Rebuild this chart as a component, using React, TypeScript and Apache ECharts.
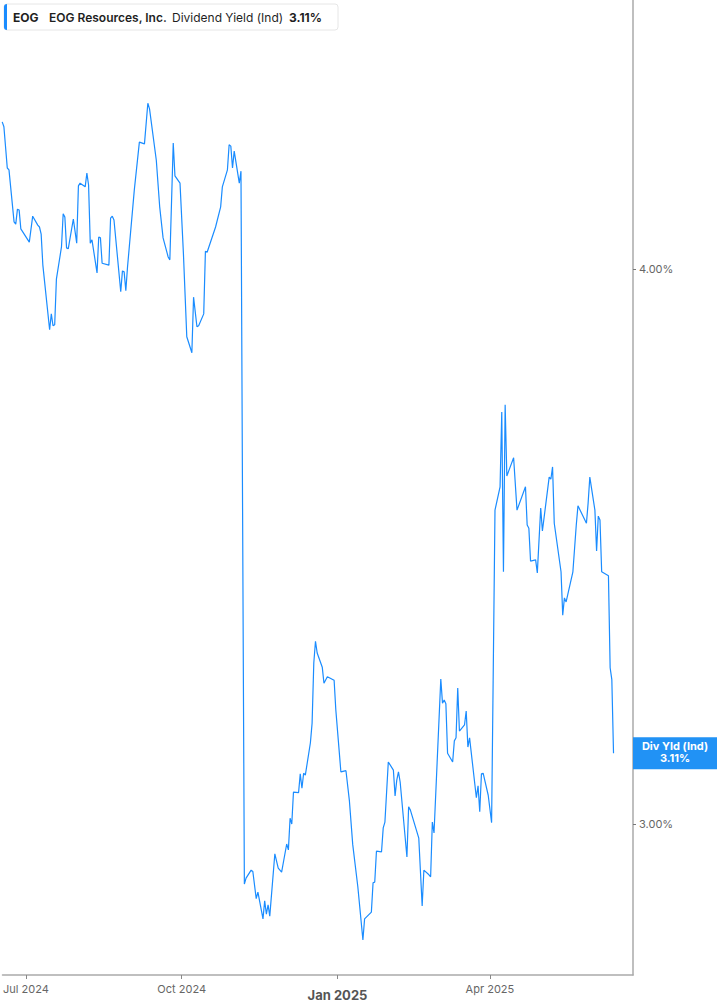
import React, { useEffect, useRef } from "react";
import * as echarts from "echarts";

// Dividend yield (indicated), % — EOG Resources, Inc.
const dates: string[] = [
  "2024-06-17","2024-06-18","2024-06-20","2024-06-21","2024-06-24","2024-06-25","2024-06-26","2024-06-27","2024-06-28",
  "2024-07-03","2024-07-05","2024-07-08","2024-07-09","2024-07-10","2024-07-11","2024-07-15","2024-07-16","2024-07-17",
  "2024-07-18","2024-07-19","2024-07-22","2024-07-23","2024-07-24","2024-07-25","2024-07-26","2024-07-29","2024-07-31",
  "2024-08-01","2024-08-02","2024-08-05","2024-08-06","2024-08-07","2024-08-08","2024-08-09","2024-08-12","2024-08-13",
  "2024-08-14","2024-08-15","2024-08-19","2024-08-20","2024-08-21","2024-08-22","2024-08-26","2024-08-27","2024-08-28",
  "2024-08-29","2024-08-30","2024-09-03","2024-09-06","2024-09-09","2024-09-11","2024-09-12","2024-09-16","2024-09-18",
  "2024-09-20","2024-09-23","2024-09-24","2024-09-26","2024-09-27","2024-09-30","2024-10-02","2024-10-04","2024-10-07",
  "2024-10-08","2024-10-10","2024-10-11","2024-10-14","2024-10-15","2024-10-16","2024-10-21","2024-10-24","2024-10-25",
  "2024-10-28","2024-10-29","2024-10-30","2024-10-31","2024-11-01","2024-11-04","2024-11-05",
  "2024-11-07","2024-11-08","2024-11-11","2024-11-12","2024-11-14","2024-11-15","2024-11-18","2024-11-19","2024-11-20",
  "2024-11-21","2024-11-22","2024-11-25","2024-11-27","2024-11-29","2024-12-02","2024-12-03","2024-12-04","2024-12-05",
  "2024-12-06","2024-12-09","2024-12-10","2024-12-11","2024-12-12","2024-12-13","2024-12-16","2024-12-17","2024-12-18",
  "2024-12-19","2024-12-20","2024-12-23","2024-12-24","2024-12-26","2024-12-30","2024-12-31","2025-01-03","2025-01-06",
  "2025-01-08","2025-01-10","2025-01-13","2025-01-16","2025-01-17","2025-01-21","2025-01-22","2025-01-23","2025-01-24",
  "2025-01-27","2025-01-28","2025-01-29","2025-01-31","2025-02-03","2025-02-04","2025-02-05","2025-02-06","2025-02-07",
  "2025-02-11","2025-02-12","2025-02-13","2025-02-18","2025-02-20","2025-02-21","2025-02-24","2025-02-25","2025-02-26",
  "2025-02-27","2025-03-03","2025-03-04","2025-03-05","2025-03-06","2025-03-07","2025-03-10","2025-03-11","2025-03-12",
  "2025-03-13","2025-03-14","2025-03-17","2025-03-18","2025-03-19","2025-03-20","2025-03-24","2025-03-25","2025-03-26",
  "2025-03-27","2025-03-28","2025-03-31","2025-04-02",
  "2025-04-03","2025-04-04","2025-04-07","2025-04-08","2025-04-09","2025-04-10","2025-04-11","2025-04-15","2025-04-17",
  "2025-04-22","2025-04-23","2025-04-24","2025-04-25","2025-04-28","2025-04-29","2025-05-01","2025-05-02","2025-05-06",
  "2025-05-07","2025-05-08","2025-05-09","2025-05-13","2025-05-14","2025-05-15","2025-05-16","2025-05-20","2025-05-22",
  "2025-05-23","2025-05-28","2025-05-29","2025-05-30","2025-06-02","2025-06-03","2025-06-04","2025-06-05","2025-06-06",
  "2025-06-10","2025-06-11","2025-06-12","2025-06-13",
];

const yields: number[] = [
  4.317,4.306,4.215,4.211,4.099,4.094,4.126,4.124,4.084,
  4.056,4.111,4.092,4.088,4.073,4.008,3.876,3.908,3.884,
  3.886,3.979,4.046,4.116,4.109,4.044,4.042,4.105,4.054,
  4.176,4.182,4.174,4.204,4.178,4.054,4.061,3.992,4.067,
  4.065,4.012,4.008,4.107,4.111,4.103,3.953,3.996,3.994,
  3.955,4.004,4.167,4.272,4.268,4.359,4.346,4.232,4.131,
  4.065,4.025,4.019,4.270,4.198,4.182,4.033,3.862,3.830,
  3.942,3.882,3.884,3.908,4.037,4.035,4.088,4.131,4.174,
  4.211,4.266,4.263,4.215,4.252,4.182,4.208,
  2.908,2.917,2.929,2.927,2.886,2.896,2.856,2.883,2.863,
  2.877,2.860,2.954,2.932,2.926,2.969,2.960,3.009,3.000,
  3.050,3.049,3.079,3.056,3.080,3.077,3.129,3.161,3.261,
  3.298,3.278,3.254,3.227,3.238,3.232,3.183,3.082,3.084,
  3.037,2.968,2.904,2.825,2.856,2.866,2.910,2.911,2.958,
  2.957,2.994,3.003,3.098,3.085,3.044,3.069,3.082,3.066,
  2.949,3.027,3.022,2.978,2.875,2.929,2.922,2.919,3.003,
  2.986,3.234,3.194,3.199,3.193,3.112,3.098,3.132,3.137,
  3.219,3.148,3.158,3.181,3.122,3.137,3.041,3.060,3.019,
  3.079,3.080,3.045,3.002,
  3.254,3.530,3.573,3.714,3.419,3.728,3.593,3.627,3.530,
  3.573,3.503,3.497,3.438,3.440,3.417,3.534,3.492,3.591,
  3.587,3.610,3.506,3.419,3.343,3.373,3.366,3.419,3.503,
  3.538,3.506,3.543,3.591,3.530,3.456,3.519,3.512,3.419,
  3.412,3.253,3.233,3.112,
];

const xTickDates: string[] = ["2024-07-01", "2024-10-01", "2025-01-01", "2025-04-01"];
const xTickLabels: string[] = ["Jul 2024", "Oct 2024", "Jan 2025", "Apr 2025"];
const yTicks: number[] = [3, 4];
const xRange: string[] = ["2024-06-17T04:20:00Z", "2025-06-24T12:00:00Z"];
const yRange: number[] = [2.7741, 4.5985];

const ticker = "EOG";
const company = "EOG Resources, Inc.";
const metric = "Dividend Yield (Ind)";
const tagTitle = "Div Yld (Ind)";

const ts = (s: string) => (s.length === 10 ? Date.parse(s + "T00:00:00Z") : Date.parse(s));

const LINE = "#1a8cff";
const FONT = "Inter, 'Noto Sans', sans-serif";

export default function App() {
  const ref = useRef<HTMLDivElement>(null);

  useEffect(() => {
    if (!ref.current) return;
    const chart = echarts.init(ref.current, null, { renderer: "svg" });
    const data = dates.map((d, i) => [ts(d), Math.log(yields[i])]);
    const tickTs = xTickDates.map(ts);
    const last = yields[yields.length - 1];

    chart.setOption({
      animation: false,
      backgroundColor: "#ffffff",
      textStyle: { fontFamily: FONT },
      grid: { left: 0, right: 84, top: 0, bottom: 30, containLabel: false },
      xAxis: {
        type: "value",
        min: ts(xRange[0]),
        max: ts(xRange[1]),
        axisLine: { show: true, lineStyle: { color: "#aaaaaa", width: 1.5 } },
        axisTick: { show: true, length: 4, customValues: tickTs, lineStyle: { color: "#888888" } },
        splitLine: { show: false },
        axisLabel: {
          customValues: tickTs,
          margin: 8,
          color: "#666666",
          fontSize: 11,
          fontFamily: FONT,
          formatter: (v: number) => {
            const i = tickTs.findIndex((t) => Math.abs(t - v) < 86400000);
            const s = i >= 0 ? xTickLabels[i] : "";
            return s.startsWith("Jan") ? "{b|" + s + "}" : s;
          },
          rich: {
            b: { fontWeight: "bold", fontSize: 13, color: "#555555", fontFamily: FONT, padding: [5, 0, 0, 0] },
          },
        },
      },
      yAxis: {
        type: "value",
        position: "right",
        min: Math.log(yRange[0]),
        max: Math.log(yRange[1]),
        axisLine: { show: true, lineStyle: { color: "#aaaaaa", width: 1.5 } },
        axisTick: { show: true, length: 3, customValues: yTicks.map(Math.log), lineStyle: { color: "#777777" } },
        splitLine: { show: false },
        axisLabel: {
          customValues: yTicks.map(Math.log),
          margin: 6,
          color: "#666666",
          fontSize: 11,
          fontFamily: FONT,
          formatter: (v: number) => Math.exp(v).toFixed(2) + "%",
        },
      },
      series: [
        {
          type: "line",
          data,
          showSymbol: false,
          symbol: "none",
          lineStyle: { color: LINE, width: 1.2 },
          clip: true,
        },
      ],
    });

    const yPix = chart.convertToPixel({ yAxisIndex: 0 }, Math.log(last)) as number;

    chart.setOption({
      graphic: [
        {
          type: "rect",
          shape: { x: 4, y: 4, width: 334, height: 26, r: 3 },
          style: { fill: "#ffffff", stroke: "#e6e6e6", lineWidth: 1 },
          z: 100,
        },
        {
          type: "rect",
          shape: { x: 4, y: 4, width: 3, height: 26, r: [3, 0, 0, 3] },
          style: { fill: LINE },
          z: 101,
        },
        {
          type: "text",
          x: 13,
          y: 17,
          style: { text: ticker, fill: "#1f1f1f", font: "bold 12px " + FONT, textVerticalAlign: "middle" },
          z: 101,
        },
        {
          type: "text",
          x: 49,
          y: 17,
          style: { text: company, fill: "#1f1f1f", font: "600 12px " + FONT, textVerticalAlign: "middle" },
          z: 101,
        },
        {
          type: "text",
          x: 172,
          y: 17,
          style: { text: metric, fill: "#1f1f1f", font: "normal 12px " + FONT, textVerticalAlign: "middle" },
          z: 101,
        },
        {
          type: "text",
          x: 289,
          y: 17,
          style: { text: last.toFixed(2) + "%", fill: "#1f1f1f", font: "bold 12px " + FONT, textVerticalAlign: "middle" },
          z: 101,
        },
        {
          type: "rect",
          shape: { x: 633, y: yPix - 16, width: 84, height: 32 },
          style: { fill: "#2192f5" },
          z: 100,
        },
        {
          type: "text",
          x: 675,
          y: yPix - 7,
          style: {
            text: tagTitle,
            fill: "#ffffff",
            font: "bold 11px " + FONT,
            textAlign: "center",
            textVerticalAlign: "middle",
          },
          z: 101,
        },
        {
          type: "text",
          x: 675,
          y: yPix + 5,
          style: {
            text: last.toFixed(2) + "%",
            fill: "#ffffff",
            font: "bold 11px " + FONT,
            textAlign: "center",
            textVerticalAlign: "middle",
          },
          z: 101,
        },
      ],
    });

    return () => chart.dispose();
  }, []);

  return (
    <div
      ref={ref}
      style={{ position: "fixed", left: 0, top: 0, width: 717, height: 1005, background: "#ffffff" }}
    />
  );
}
